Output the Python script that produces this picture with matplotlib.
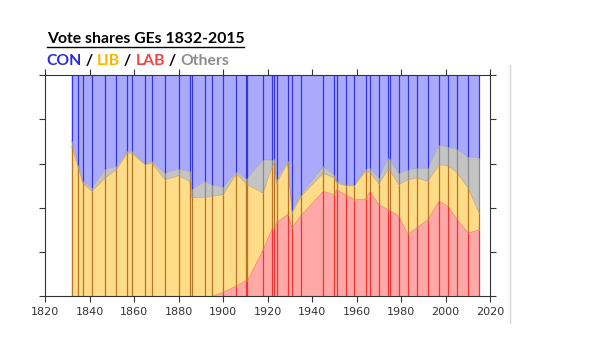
import numpy as np
import matplotlib
matplotlib.use('Agg')
import matplotlib.pyplot as plt
from matplotlib.lines import Line2D

# UK general elections, vote share in percent
years = [1832, 1835, 1837, 1841, 1847, 1852, 1857, 1859, 1865, 1868, 1874, 1880,
         1885, 1886, 1892, 1895, 1900, 1906, 1910.1, 1910.9, 1918, 1922, 1923, 1924,
         1929, 1931, 1935, 1945, 1950, 1951, 1955, 1959, 1964, 1966, 1970, 1974.1,
         1974.8, 1979, 1983, 1987, 1992, 1997, 2001, 2005, 2010, 2015]
lab = [0, 0, 0, 0, 0, 0, 0, 0, 0, 0, 0, 0,
       0, 0, 0, 0, 1.8, 4.8, 7.0, 7.0, 21.0, 30.5, 31.0, 33.3,
       37.0, 31.0, 36.5, 47.5, 46.0, 48.2, 46.0, 43.7, 44.0, 47.4, 41.4, 39.2,
       39.0, 36.2, 28.0, 31.0, 34.7, 43.0, 40.7, 35.0, 28.7, 30.0]
lib = [67.7, 58.0, 51.2, 47.5, 53.5, 57.2, 64.7, 64.7, 59.5, 60.2, 52.7, 54.5,
       52.0, 44.7, 44.8, 45.2, 44.2, 50.6, 44.2, 43.5, 25.7, 28.0, 29.5, 17.9,
       23.2, 6.7, 8.7, 8.2, 7.5, 3.0, 4.0, 6.3, 12.5, 8.6, 9.6, 18.0,
       18.0, 14.3, 24.7, 22.5, 17.3, 16.5, 18.3, 21.0, 20.5, 7.7]
oth = [2.7, 1.5, 0.8, 1.5, 4.0, 1.5, 0.8, 0.8, 0.5, 0.8, 3.0, 3.0,
       4.5, 3.8, 7.2, 5.3, 3.4, 1.0, 2.3, 3.0, 15.0, 3.0, 1.5, 2.0,
       0.8, 1.5, 0.8, 3.0, 1.5, 0.8, 0.5, 0.5, 1.0, 2.0, 2.5, 5.3,
       5.0, 5.2, 4.5, 4.3, 5.8, 9.0, 8.5, 10.5, 14.0, 24.8]
con = [29.6, 40.5, 48.0, 51.0, 42.5, 41.3, 34.5, 34.5, 40.0, 39.0, 44.3, 42.5,
       43.5, 51.5, 48.0, 49.5, 50.6, 43.6, 46.5, 46.5, 38.3, 38.5, 38.0, 46.8,
       39.0, 60.8, 54.0, 41.3, 45.0, 48.0, 49.5, 49.5, 42.5, 42.0, 46.5, 37.5,
       38.0, 44.3, 42.8, 42.2, 42.2, 31.5, 32.5, 33.5, 36.8, 37.5]

x = np.array(years)
b0 = np.zeros(len(x))
b1 = b0 + np.array(lab) / 100
b2 = b1 + np.array(lib) / 100
b3 = b2 + np.array(oth) / 100
b4 = b3 + np.array(con) / 100

fig = plt.figure(figsize=(6, 3.38), dpi=100)
ax = fig.add_axes([0.075, 0.123, 0.742, 0.655])

bands = [(b0, b1, '#ffa8a8', '#ee3333'),
         (b1, b2, '#fedc88', '#b87325'),
         (b2, b3, '#c4c4c4', '#8a8a8a'),
         (b3, b4, '#aaaafc', '#3434e0')]
for lo, hi, fc, lc in bands:
    ax.fill_between(x, lo, hi, facecolor=fc, edgecolor='none')
    ax.vlines(x, lo, hi, colors=lc, lw=0.9)
    ax.plot(x, hi, color=lc, lw=0.5, alpha=0.5)

ax.set_xlim(1820, 2020)
ax.set_ylim(0, 1)
ax.set_xticks(range(1820, 2021, 20))
ax.set_yticks(np.arange(0, 1.01, 0.2))
ax.tick_params(axis='both', direction='out', length=4, width=0.8, color='#333333',
               labelsize=8, labelcolor='#333333', top=True, right=True,
               labelleft=False)
for s in ax.spines.values():
    s.set_color('#333333')
    s.set_linewidth(0.8)

# title, underlined
t = fig.text(0.078, 0.873, 'Vote shares GEs 1832-2015', fontsize=11.3, fontweight='bold',
             family='Lato', va='baseline')
fig.canvas.draw()
r = fig.canvas.get_renderer()
bb = t.get_window_extent(r)
y_ul = 1 - 46.5 / 338
fig.add_artist(Line2D([bb.x0 / fig.bbox.width, bb.x1 / fig.bbox.width], [y_ul, y_ul],
                      color='black', lw=1.0))

# coloured legend line
parts = [('CON', '#2a2ad8'), (' / ', 'black'), ('LIB', '#f5b800'), (' / ', 'black'),
         ('LAB', '#e84545'), (' / ', 'black'), ('Others', '#8c8c8c')]
xpos = 0.078
for s, c in parts:
    tt = fig.text(xpos, 0.808, s, fontsize=11.3, fontweight='bold', color=c,
                  family='Lato', va='baseline')
    fig.canvas.draw()
    bb = tt.get_window_extent(r)
    xpos = bb.x1 / fig.bbox.width

# faint slide border on the right
fig.add_artist(Line2D([510 / 600, 510 / 600], [1 - 323 / 338, 1 - 65 / 338],
                      color='#d6d6d6', lw=1))

fig.savefig('out.png', dpi=100)
